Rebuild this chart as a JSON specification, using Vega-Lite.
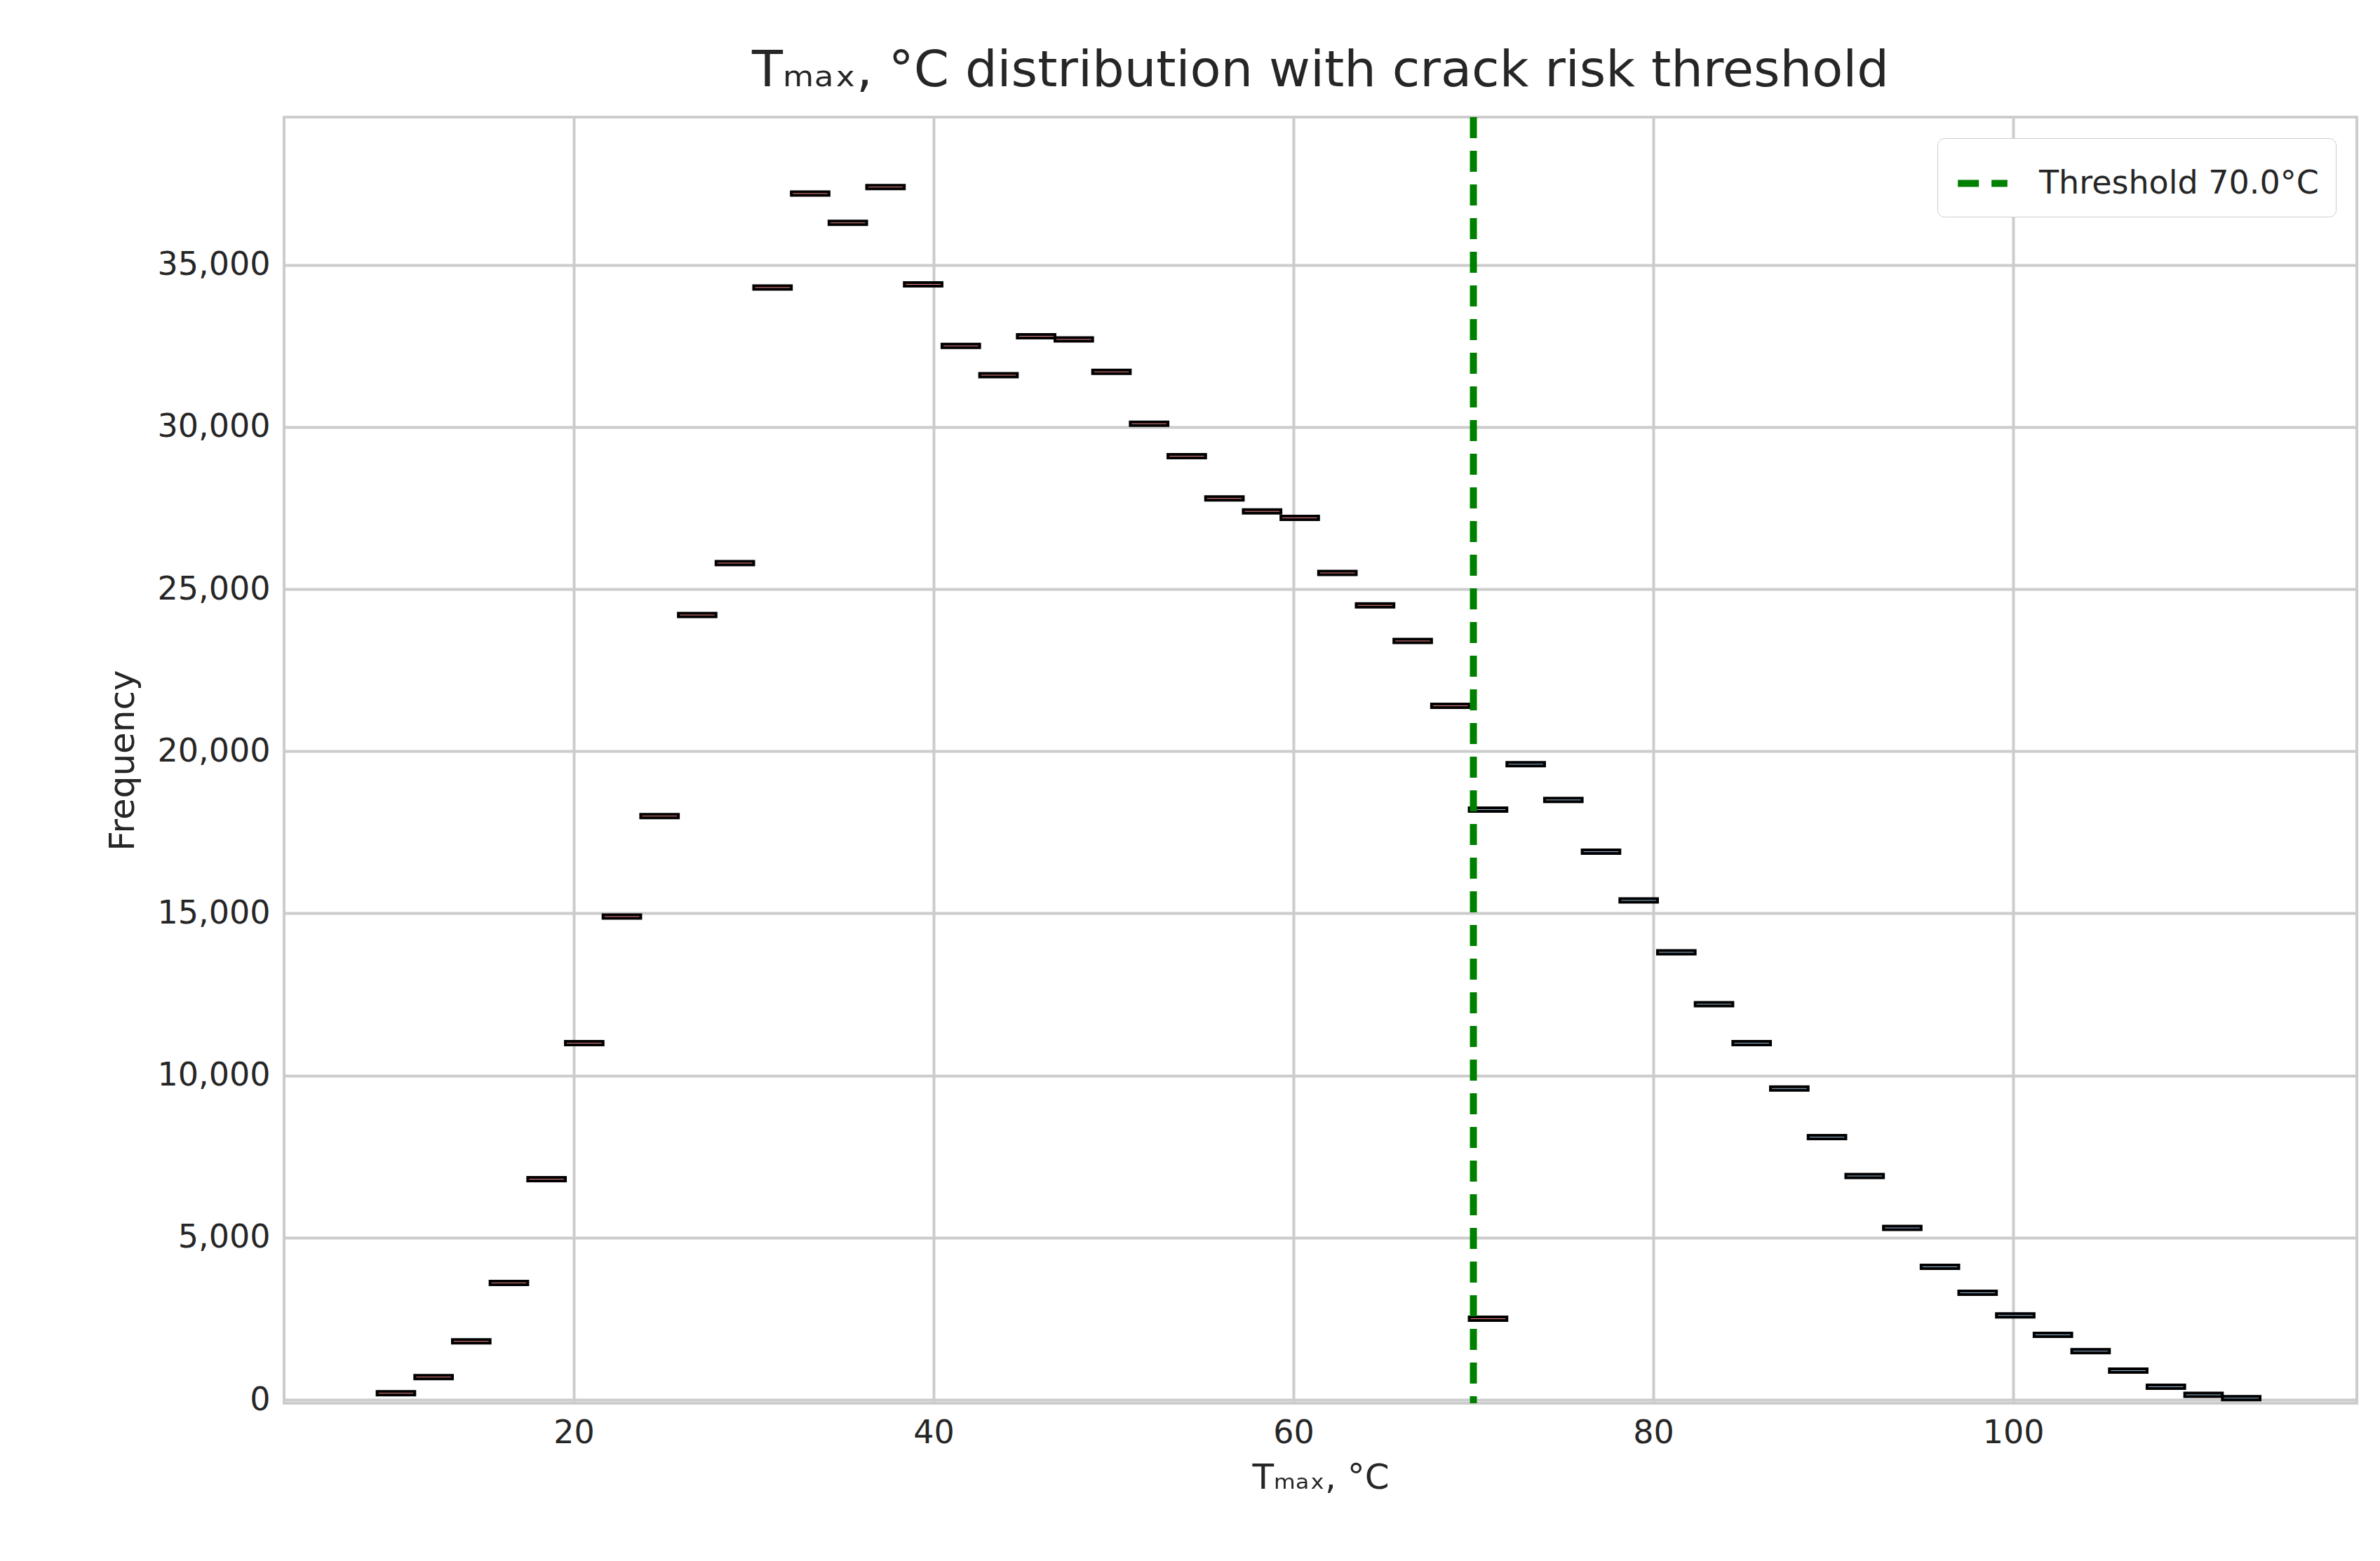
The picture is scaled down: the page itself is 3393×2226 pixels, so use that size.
{
"$schema":"https://vega.github.io/schema/vega-lite/v6.json",
"autosize":"none",
"width":2955,"height":1834,
"padding":{"left":405,"top":167,"right":33,"bottom":225},
"background":"white",
"config":{"font":"DejaVu Sans","view":{"stroke":"#cccccc","strokeWidth":4},
"axis":{"gridColor":"#cccccc","gridWidth":4,"domain":false,"ticks":false,"labelFontSize":46,"titleFontSize":50,"labelColor":"#262626","titleColor":"#262626","titleFontWeight":"normal","labelPadding":20}},
"title":{"text":"Tₘₐₓ, °C distribution with crack risk threshold","fontSize":72,"fontWeight":"normal","color":"#262626","offset":24},
"datasets":{"bins":[
{"i":30,"g":"ge","c":18200},{"i":31,"g":"ge","c":19600},{"i":32,"g":"ge","c":18500},{"i":33,"g":"ge","c":16900},{"i":34,"g":"ge","c":15400},{"i":35,"g":"ge","c":13800},{"i":36,"g":"ge","c":12200},{"i":37,"g":"ge","c":11000},{"i":38,"g":"ge","c":9600},{"i":39,"g":"ge","c":8100},{"i":40,"g":"ge","c":6900},{"i":41,"g":"ge","c":5300},{"i":42,"g":"ge","c":4100},{"i":43,"g":"ge","c":3300},{"i":44,"g":"ge","c":2600},{"i":45,"g":"ge","c":2000},{"i":46,"g":"ge","c":1500},{"i":47,"g":"ge","c":900},{"i":48,"g":"ge","c":400},{"i":49,"g":"ge","c":150},{"i":50,"g":"ge","c":50},
{"i":1,"g":"lt","c":200},{"i":2,"g":"lt","c":700},{"i":3,"g":"lt","c":1800},{"i":4,"g":"lt","c":3600},{"i":5,"g":"lt","c":6800},{"i":6,"g":"lt","c":11000},{"i":7,"g":"lt","c":14900},{"i":8,"g":"lt","c":18000},{"i":9,"g":"lt","c":24200},{"i":10,"g":"lt","c":25800},{"i":11,"g":"lt","c":34300},{"i":12,"g":"lt","c":37200},{"i":13,"g":"lt","c":36300},{"i":14,"g":"lt","c":37400},{"i":15,"g":"lt","c":34400},{"i":16,"g":"lt","c":32500},{"i":17,"g":"lt","c":31600},{"i":18,"g":"lt","c":32800},{"i":19,"g":"lt","c":32700},{"i":20,"g":"lt","c":31700},{"i":21,"g":"lt","c":30100},{"i":22,"g":"lt","c":29100},{"i":23,"g":"lt","c":27800},{"i":24,"g":"lt","c":27400},{"i":25,"g":"lt","c":27200},{"i":26,"g":"lt","c":25500},{"i":27,"g":"lt","c":24500},{"i":28,"g":"lt","c":23400},{"i":29,"g":"lt","c":21400},{"i":30,"g":"lt","c":2500}
]},
"layer":[
{"data":{"name":"bins"},
"transform":[{"calculate":"9.07+(datum.i-1)*2.093","as":"x0"},{"calculate":"9.07+datum.i*2.093","as":"x1"}],
"mark":{"type":"bar","stroke":"black","strokeWidth":4},
"encoding":{
"x":{"field":"x0","type":"quantitative","scale":{"domain":[3.9,119.1],"nice":false,"zero":false},"axis":{"values":[20,40,60,80,100],"title":"Tₘₐₓ, °C","titlePadding":16}},
"x2":{"field":"x1"},
"y":{"field":"c","type":"quantitative","stack":null,"scale":{"domain":[0,39450],"nice":false},"axis":{"values":[0,5000,10000,15000,20000,25000,30000,35000],"format":",.0f","title":"Frequency","titlePadding":24}},
"fill":{"field":"g","type":"nominal","scale":{"domain":["lt","ge"],"range":["#e8383b","#4682b4"]},"legend":null},
"fillOpacity":{"field":"g","type":"nominal","scale":{"domain":["lt","ge"],"range":[0.6,0.55]},"legend":null}
}},
{"data":{"values":[{"t":70.0,"label":"Threshold 70.0°C"}]},
"mark":{"type":"rule","color":"green","strokeWidth":10},
"encoding":{"x":{"field":"t","type":"quantitative"},
"strokeDash":{"field":"label","type":"nominal","scale":{"range":[[30,18]]},
"legend":{"title":null,"orient":"top-right","labelFontSize":46,"labelLimit":1000,"labelColor":"#262626","labelOffset":40,"symbolType":"stroke","symbolStrokeColor":"green","symbolStrokeWidth":10,"symbolSize":5000,"strokeColor":"#cccccc","padding":24,"cornerRadius":10,"fillColor":"white","offset":30}}}}
]
}
